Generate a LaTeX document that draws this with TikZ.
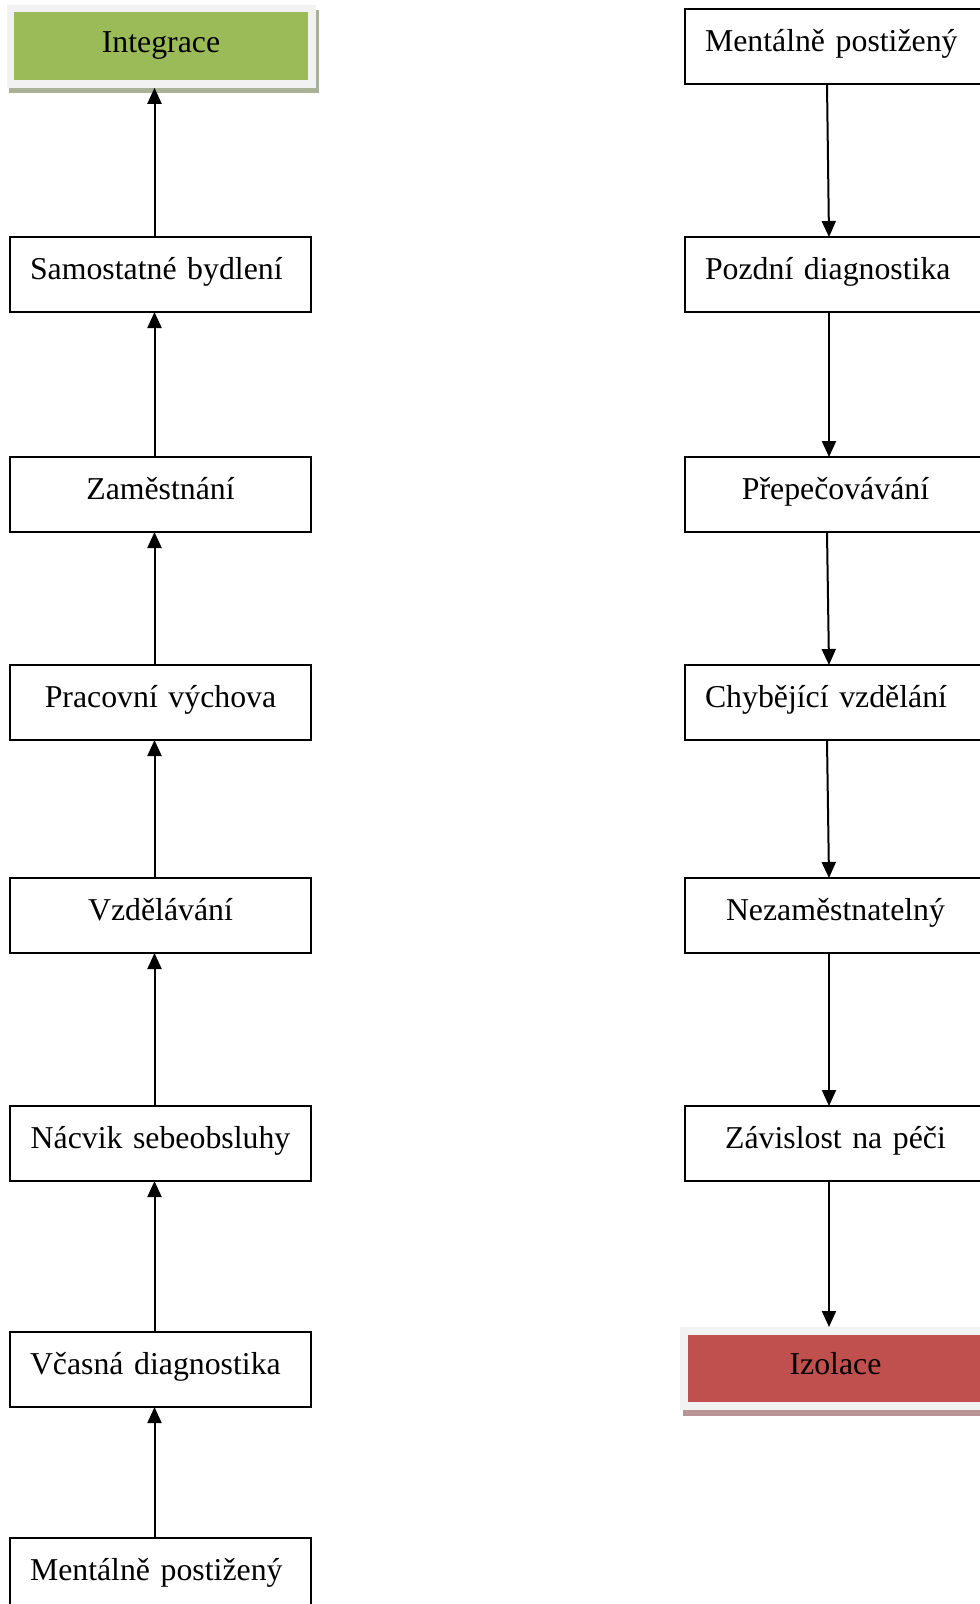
\documentclass[tikz,border=0pt]{standalone}
\usepackage{fontspec}
\setmainfont{Liberation Serif}
\usetikzlibrary{arrows.meta,backgrounds}
\definecolor{igreen}{HTML}{9BBB59}
\definecolor{ired}{HTML}{C0504D}
\definecolor{iframe}{HTML}{F2F2F2}
\definecolor{gshadow}{HTML}{A9B296}
\definecolor{rshadow}{HTML}{B89494}
\begin{document}
\begin{tikzpicture}[x=1pt,y=-1pt,
  txt/.style={font=\fontsize{31.8pt}{38pt}\selectfont},
  box/.style={txt, draw, line width=2pt, outer sep=0pt, inner ysep=0pt, inner xsep=20pt,
    text width=261pt, text height=42pt, text depth=33pt, anchor=north},
  cbox/.style={box, align=center},
  lbox/.style={box, align=left},
  hbox/.style={txt, inner xsep=0pt, inner ysep=0pt, text width=303pt, align=center,
    text depth=32pt, anchor=north},
  arr/.style={line width=2pt, -{Triangle[width=14pt,length=16pt]}},
]
\useasboundingbox (0,0) rectangle (980,1604);

% left column
\node[hbox, fill=igreen, draw=iframe, line width=7.5pt, text width=301.5pt, text height=43.5pt, text depth=32pt] (integ) at (161,4.75) {Integrace};
\node[lbox] (l1) at (160.5,237) {Samostatné bydlení};
\node[cbox] (l2) at (160.5,457) {Zaměstnání};
\node[cbox] (l3) at (160.5,665) {Pracovní výchova};
\node[cbox] (l4) at (160.5,878) {Vzdělávání};
\node[cbox] (l5) at (160.5,1106) {Nácvik sebeobsluhy};
\node[lbox] (l6) at (160.5,1332) {Včasná diagnostika};
\node[lbox] (l7) at (160.5,1538) {Mentálně postižený};

% right column
\node[lbox] (r1) at (835.5,9) {Mentálně postižený};
\node[lbox] (r2) at (835.5,237) {Pozdní diagnostika};
\node[cbox] (r3) at (835.5,457) {Přepečovávání};
\node[lbox] (r4) at (835.5,665) {Chybějící vzdělání};
\node[cbox] (r5) at (835.5,878) {Nezaměstnatelný};
\node[cbox] (r6) at (835.5,1106) {Závislost na péči};
\node[hbox, fill=ired, draw=iframe, line width=8pt, text height=43pt] (izol) at (835.5,1327) {Izolace};

% shadows
\begin{scope}[on background layer]
  \fill[gshadow] ([xshift=2pt,yshift=-5pt]integ.north west) rectangle ([xshift=3pt,yshift=-5pt]integ.south east);
  \fill[rshadow] ([xshift=3pt,yshift=-6pt]izol.north west) rectangle ([xshift=3pt,yshift=-6pt]izol.south east);
\end{scope}

% left arrows (upwards)
\draw[arr] ([xshift=-6pt]l7.north) -- ([xshift=-6pt]l6.south);
\draw[arr] ([xshift=-6pt]l6.north) -- ([xshift=-6pt]l5.south);
\draw[arr] ([xshift=-6pt]l5.north) -- ([xshift=-6pt]l4.south);
\draw[arr] ([xshift=-6pt]l4.north) -- ([xshift=-6pt]l3.south);
\draw[arr] ([xshift=-6pt]l3.north) -- ([xshift=-6pt]l2.south);
\draw[arr] ([xshift=-6pt]l2.north) -- ([xshift=-6pt]l1.south);
\draw[arr] ([xshift=-6pt]l1.north) -- ([xshift=-6.5pt]integ.south);

% right arrows (downwards)
\draw[arr] ([xshift=-8.5pt]r1.south) -- ([xshift=-6.5pt]r2.north);
\draw[arr] ([xshift=-6.5pt]r2.south) -- ([xshift=-6.5pt]r3.north);
\draw[arr] ([xshift=-8.5pt]r3.south) -- ([xshift=-6.5pt]r4.north);
\draw[arr] ([xshift=-8.5pt]r4.south) -- ([xshift=-6.5pt]r5.north);
\draw[arr] ([xshift=-6.5pt]r5.south) -- ([xshift=-6.5pt]r6.north);
\draw[arr] ([xshift=-6.5pt]r6.south) -- ([xshift=-6.5pt]izol.north);
\end{tikzpicture}
\end{document}
